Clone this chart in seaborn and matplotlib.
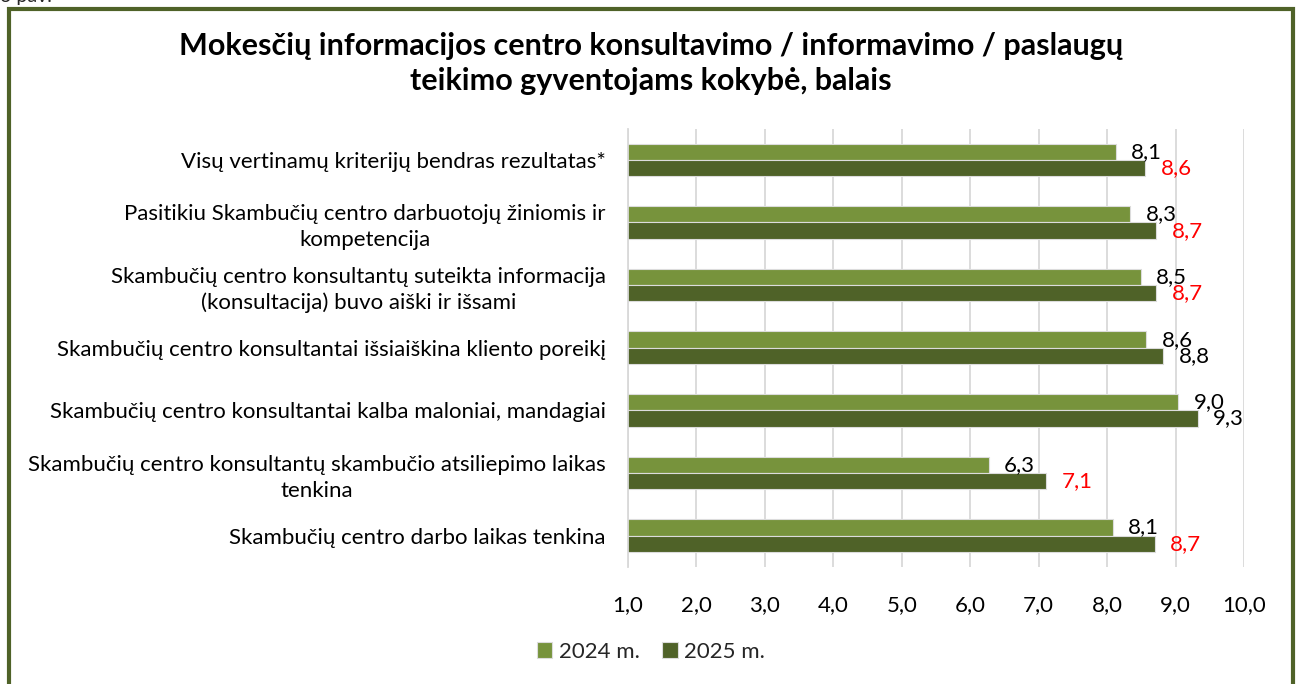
import pandas as pd
import matplotlib.pyplot as plt
import seaborn as sns
from matplotlib.patches import Rectangle

# chart values
categories = [
    "Visų vertinamų kriterijų bendras rezultatas*",
    "Pasitikiu Skambučių centro darbuotojų žiniomis ir\nkompetencija",
    "Skambučių centro konsultantų suteikta informacija\n(konsultacija) buvo aiški ir išsami",
    "Skambučių centro konsultantai išsiaiškina kliento poreikį",
    "Skambučių centro konsultantai kalba maloniai, mandagiai",
    "Skambučių centro konsultantų skambučio atsiliepimo laikas\ntenkina",
    "Skambučių centro darbo laikas tenkina",
]
years = ["2024 m.", "2025 m."]
values_2024 = [8.13, 8.34, 8.49, 8.57, 9.04, 6.27, 8.08]
values_2025 = [8.56, 8.72, 8.72, 8.82, 9.32, 7.11, 8.70]
red_2025 = [True, True, True, False, False, True, True]
x_ticks = [1, 2, 3, 4, 5, 6, 7, 8, 9, 10]

df = pd.DataFrame({
    "kriterijus": categories * 2,
    "metai": [years[0]] * len(categories) + [years[1]] * len(categories),
    "balas": values_2024 + values_2025,
})

sns.set_style("white")
plt.rcParams["font.family"] = ["Lato", "DejaVu Sans"]

light_green = "#77933c"
dark_green = "#4f6228"

fig = plt.figure(figsize=(13.02, 6.84), dpi=100)
ax = fig.add_axes([0.4823, 0.171, 0.9555 - 0.4823, 0.8121 - 0.171])

sns.barplot(
    data=df, y="kriterijus", x="balas", hue="metai",
    order=categories, hue_order=years,
    palette=[light_green, dark_green], saturation=1,
    orient="h", width=0.52, edgecolor="#dcdcdc", linewidth=0.8,
    errorbar=None, ax=ax, legend=True,
)

ax.set_xlim(1, 10)
ax.set_xticks(x_ticks)
ax.set_xticklabels([f"{t:.1f}".replace(".", ",") for t in x_ticks])
ax.set_xlabel("")
ax.set_ylabel("")
ax.grid(axis="x", color="#d9d9d9", linewidth=1.3)
ax.set_axisbelow(True)
for s in ["top", "right", "bottom"]:
    ax.spines[s].set_visible(False)
ax.spines["left"].set_color("#d9d9d9")
ax.spines["left"].set_linewidth(1.3)
ax.tick_params(axis="y", length=0, pad=16, labelsize=16)
ax.tick_params(axis="x", length=0, pad=20, labelsize=16)
for lbl in ax.get_yticklabels():
    lbl.set_multialignment("center")
    lbl.set_linespacing(1.35)
    lbl.set_color("black")
for lbl in ax.get_xticklabels():
    lbl.set_color("black")

# value labels
for cont, vals, year in zip(ax.containers, [values_2024, values_2025], years):
    texts = ax.bar_label(cont, labels=[f"{v:.1f}".replace(".", ",") for v in vals],
                         padding=11, fontsize=16)
    for i, t in enumerate(texts):
        if year == years[1] and red_2025[i]:
            t.set_color("#ff0000")
        else:
            t.set_color("black")

# legend
handles, labels = ax.get_legend_handles_labels()
ax.legend_.remove()
fig.legend(handles, labels, loc="center", bbox_to_anchor=(0.5, 1 - 652 / 684),
           ncol=2, frameon=False, fontsize=16, handlelength=0.7, handleheight=0.7,
           handletextpad=0.3, columnspacing=1.0)

fig.suptitle("Mokesčių informacijos centro konsultavimo / informavimo / paslaugų\n"
             "teikimo gyventojams kokybė, balais",
             x=0.5, y=1 - 32 / 684, va="top", fontsize=22, fontweight="bold",
             linespacing=1.3, color="black")

# frame around the chart
fig.patches.append(Rectangle((9 / 1302, -0.05), (1293 - 9) / 1302, 1.05 - 9 / 684,
                             transform=fig.transFigure, fill=False,
                             edgecolor=dark_green, linewidth=3, clip_on=False))
fig.text(0.0, 1 - 2 / 684, "3 pav.", fontsize=14, va="baseline", ha="left")

fig.savefig("out.png", dpi=100)
